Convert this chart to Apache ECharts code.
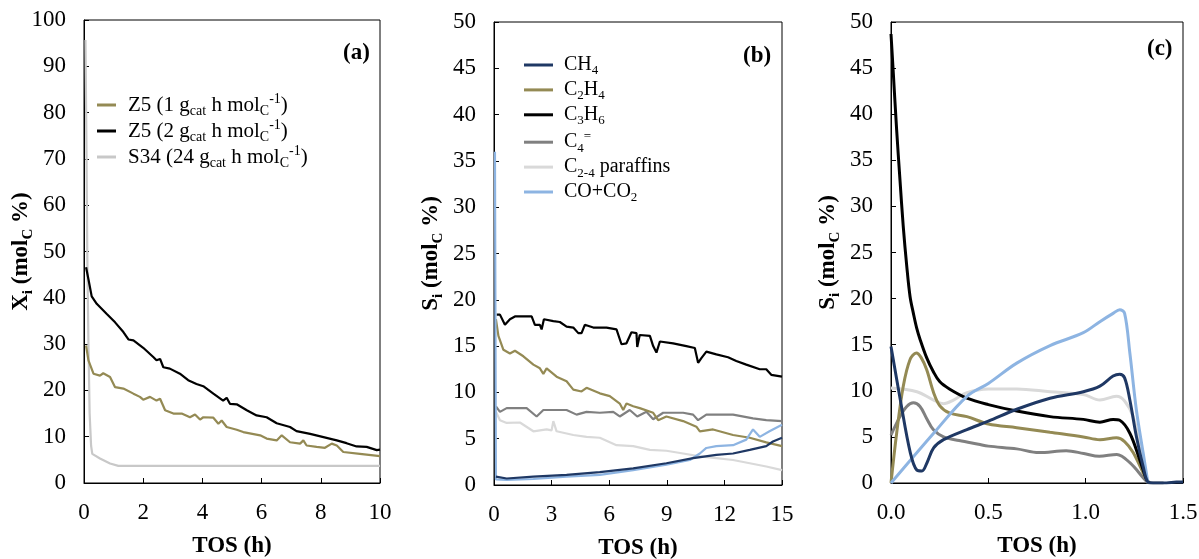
<!DOCTYPE html>
<html>
<head>
<meta charset="utf-8">
<script src="https://cdn.jsdelivr.net/npm/echarts@6/dist/echarts.min.js"></script>
<style>
html,body{margin:0;padding:0;background:#fff;}
#chart{width:1199px;height:559px;}
</style>
</head>
<body>
<div id="chart"></div>
<script>
// ---------- Panel (a): conversion X_i vs TOS ----------
const aTicksX = [0, 2, 4, 6, 8, 10];
const z5_1 = [[0.07,29.7],[0.15,26.5],[0.32,23.6],[0.54,23.2],[0.65,23.7],[0.88,22.9],[1.05,20.7],[1.33,20.4],[1.67,19.3],[1.89,18.6],[2.0,18.0],[2.23,18.6],[2.45,17.8],[2.57,18.2],[2.74,15.7],[3.02,15.0],[3.30,15.0],[3.58,14.2],[3.75,14.8],[3.92,13.7],[4.03,14.2],[4.37,14.1],[4.54,12.8],[4.65,13.5],[4.82,12.1],[5.16,11.5],[5.38,11.0],[5.95,10.3],[6.17,9.6],[6.51,9.2],[6.68,10.3],[6.96,8.8],[7.30,8.5],[7.41,9.2],[7.52,8.1],[7.86,7.8],[8.14,7.6],[8.37,8.5],[8.54,8.1],[8.76,6.7],[9.32,6.3],[10,5.8]];
const z5_2 = [[0.07,46.6],[0.15,44.0],[0.26,40.3],[0.43,38.7],[0.77,36.5],[1.05,34.7],[1.33,32.6],[1.5,31.0],[1.67,30.8],[2.0,29.2],[2.34,27.2],[2.45,26.5],[2.57,26.8],[2.68,25.0],[2.9,24.7],[3.24,23.6],[3.52,22.2],[3.8,21.4],[4.03,20.9],[4.37,19.3],[4.7,17.8],[4.82,18.4],[4.93,17.1],[5.16,17.0],[5.5,15.7],[5.83,14.6],[6.17,14.2],[6.51,12.9],[6.96,12.1],[7.18,11.2],[7.64,10.6],[8.09,9.9],[8.54,9.2],[8.87,8.6],[9.21,7.9],[9.55,7.8],[9.89,7.1],[10,7.2]];
const s34 = [[0.05,95.7],[0.08,75],[0.11,50],[0.15,30],[0.19,15],[0.24,8],[0.28,6.3],[0.54,5.3],[0.88,4.2],[1.16,3.7],[10,3.7]];

// ---------- Panel (b): selectivity, Z5 ----------
const bCH4 = [[0.1,0.9],[0.66,0.7],[2.05,0.9],[3.78,1.1],[5.51,1.4],[7.25,1.8],[8.98,2.35],[10.37,2.9],[11.58,3.25],[12.45,3.4],[13.32,3.8],[14.18,4.2],[14.53,4.7],[15,5.1]];
const bC2H4 = [[0.1,17.9],[0.23,16.1],[0.49,14.6],[0.83,14.2],[1.09,14.5],[1.53,13.9],[2.05,13.0],[2.39,12.6],[2.57,12.0],[2.74,12.6],[3.26,11.7],[3.78,11.2],[4.13,10.3],[4.56,10.1],[4.82,10.5],[5.51,9.9],[6.03,9.6],[6.55,8.8],[6.73,8.1],[6.9,8.8],[7.25,8.5],[7.59,8.3],[8.29,7.8],[8.55,7.0],[8.98,7.4],[9.85,6.9],[10.54,6.3],[10.72,5.8],[11.41,6.0],[12.45,5.4],[13.32,5.1],[14.18,4.6],[15,4.2]];
const bC3H6 = [[0.14,18.4],[0.31,18.4],[0.57,17.3],[0.83,17.9],[1.09,18.2],[1.96,18.2],[2.13,17.3],[2.39,17.3],[2.48,16.8],[2.6,17.9],[3.09,17.7],[3.43,17.6],[3.78,17.1],[4.13,17.0],[4.39,16.4],[4.56,16.4],[4.73,17.3],[5.17,17.0],[5.86,17.0],[6.38,16.8],[6.64,15.2],[6.9,15.3],[7.16,16.5],[7.42,16.4],[7.46,14.9],[7.59,16.2],[8.12,16.1],[8.29,15.0],[8.46,14.3],[8.64,15.5],[9.33,15.3],[10.02,15.0],[10.46,14.8],[10.63,13.2],[10.8,13.7],[11.06,14.4],[11.58,14.1],[12.19,13.8],[12.62,13.4],[13.14,13.0],[13.84,12.5],[14.18,12.5],[14.44,11.9],[15,11.7]];
const bC4 = [[0.1,8.5],[0.31,7.9],[0.66,8.3],[1.7,8.3],[2.22,7.4],[2.57,8.1],[3.78,8.1],[4.3,7.6],[4.82,7.9],[5.51,7.8],[6.21,7.9],[6.55,7.4],[7.07,8.1],[7.46,7.4],[7.94,7.9],[8.29,7.1],[8.81,7.8],[9.85,7.8],[10.37,7.6],[10.63,7.0],[11.06,7.6],[12.45,7.6],[13.49,7.2],[14.18,7.0],[15,6.9]];
const bPar = [[0.1,7.9],[0.31,7.0],[0.66,6.7],[1.35,6.75],[2.05,5.8],[2.74,6.0],[3.0,5.9],[3.09,6.9],[3.26,5.8],[4.13,5.4],[4.82,5.2],[5.51,5.1],[6.38,4.3],[7.25,4.2],[8.12,3.8],[8.98,3.7],[9.85,3.4],[10.72,3.1],[11.58,2.9],[12.45,2.7],[13.32,2.35],[14.18,2.0],[15,1.6]];
const bCOx = [[0.05,36],[0.1,0.6],[0.66,0.55],[2.05,0.65],[3.78,0.9],[5.51,1.1],[7.25,1.6],[8.98,2.2],[10.2,2.7],[10.72,3.4],[11.06,4.0],[11.58,4.2],[12.45,4.3],[13.14,4.9],[13.49,6.0],[13.84,5.2],[14.35,5.8],[15,6.5]];

// ---------- Panel (c): selectivity, S34 ----------
const cCH4 = [[0,14.8],[0.048,9.0],[0.099,3.3],[0.133,1.4],[0.159,1.3],[0.185,2.2],[0.219,3.8],[0.27,4.7],[0.39,5.8],[0.5,6.7],[0.646,8.0],[0.817,9.2],[0.988,9.9],[1.073,10.5],[1.141,11.6],[1.175,11.8],[1.2,11.4],[1.227,9.0],[1.26,5.1],[1.295,1.8],[1.32,0.1],[1.346,0],[1.415,0],[1.466,0.1],[1.5,0.1]];
const cC2H4 = [[0,0],[0.029,5.4],[0.063,10.5],[0.098,13.4],[0.13,14.1],[0.155,13.6],[0.183,12.3],[0.219,9.8],[0.25,8.4],[0.3,7.6],[0.39,7.2],[0.5,6.4],[0.646,6.0],[0.817,5.5],[0.988,5.0],[1.073,4.7],[1.158,4.9],[1.2,4.5],[1.244,3.3],[1.312,0.4],[1.33,0]];
const cC3H6 = [[0,48.7],[0.012,44.4],[0.029,38.3],[0.046,32.9],[0.063,27.8],[0.081,23.5],[0.098,20.2],[0.115,18.4],[0.132,16.8],[0.149,15.6],[0.183,13.6],[0.217,12.1],[0.25,11.0],[0.3,10.2],[0.39,9.2],[0.5,8.5],[0.646,7.8],[0.817,7.2],[0.988,6.9],[1.073,6.6],[1.141,6.9],[1.175,6.8],[1.227,5.4],[1.278,2.5],[1.312,0.4],[1.325,0]];
const cC4 = [[0,5.2],[0.046,7.2],[0.081,8.3],[0.115,8.7],[0.149,8.3],[0.183,7.0],[0.217,5.8],[0.27,5.0],[0.35,4.6],[0.45,4.2],[0.5,4.0],[0.646,3.7],[0.76,3.3],[0.9,3.5],[0.99,3.2],[1.07,2.9],[1.16,3.1],[1.227,2.2],[1.312,0.2],[1.33,0],[1.4,0]];
const cPar = [[0,10.3],[0.133,9.9],[0.219,9.0],[0.27,8.6],[0.321,9.0],[0.39,9.8],[0.5,10.2],[0.646,10.2],[0.817,9.9],[0.988,9.6],[1.073,9.0],[1.158,9.4],[1.2,8.9],[1.244,7.2],[1.278,4.0],[1.312,0.5],[1.325,0]];
const cCOx = [[0,0],[0.219,5.4],[0.39,9.4],[0.5,10.8],[0.646,13.0],[0.817,14.9],[0.988,16.3],[1.073,17.5],[1.141,18.4],[1.175,18.8],[1.2,18.4],[1.227,14.1],[1.26,8.0],[1.295,3.3],[1.32,0]];

// ---------- labels ----------
const panelLabels = ['(a)', '(b)', '(c)'];
const legendA = {
  'Z5 (1 gcat h molC-1)': 'Z5 (1 g{sub|cat} h mol{sub|C}{sup|-1})',
  'Z5 (2 gcat h molC-1)': 'Z5 (2 g{sub|cat} h mol{sub|C}{sup|-1})',
  'S34 (24 gcat h molC-1)': 'S34 (24 g{sub|cat} h mol{sub|C}{sup|-1})'
};
const legendB = {
  'CH4': 'CH{sub|4}',
  'C2H4': 'C{sub|2}H{sub|4}',
  'C3H6': 'C{sub|3}H{sub|6}',
  'C4=': 'C{sub|4}{sup|=}',
  'C2-4 paraffins': 'C{sub|2-4} paraffins',
  'CO+CO2': 'CO+CO{sub|2}'
};

const FONT = 'Liberation Serif, Times New Roman, serif';
const col = {
  olive: '#948a54', black: '#000000', lgrey: '#c8c8c8',
  navy: '#1f3864', grey: '#808080', pale: '#d9d9d9', blue: '#8db4e2'
};

const nameRich = {
  b: { fontFamily: FONT, fontWeight: 'bold', fontSize: 23, lineHeight: 30, color: '#000' },
  bs: { fontFamily: FONT, fontWeight: 'bold', fontSize: 15, lineHeight: 15, verticalAlign: 'bottom', color: '#000' }
};
const legRich = (fs, lh) => ({
  n: { fontFamily: FONT, fontSize: fs, lineHeight: lh, color: '#000' },
  sub: { fontFamily: FONT, fontSize: Math.round(fs * 0.66), lineHeight: Math.round(fs * 0.66), verticalAlign: 'bottom', color: '#000' },
  sup: { fontFamily: FONT, fontSize: Math.round(fs * 0.66), lineHeight: Math.round(fs * 0.66), verticalAlign: 'top', color: '#000' }
});
function wrapRich(s) {
  return s.split(/(\{(?:sub|sup)\|[^}]*\})/).filter(p => p.length).map(p => p.startsWith('{') ? p : '{n|' + p + '}').join('');
}

const grids = [
  { left: 84, right: 819, top: 20, bottom: 76 },
  { left: 494, right: 417, top: 22, bottom: 74 },
  { left: 891, right: 16, top: 22, bottom: 76 }
];
const xCfg = [
  { max: 10, interval: 2, fmt: v => String(v) },
  { max: 15, interval: 3, fmt: v => String(v) },
  { max: 1.5, interval: 0.5, fmt: v => v.toFixed(1) }
];
const yCfg = [
  { max: 100, interval: 10, name: '{b|X}{bs|i}{b| (mol}{bs|C}{b| %)}' },
  { max: 50, interval: 5, name: '{b|S}{bs|i}{b| (mol}{bs|C}{b| %)}' },
  { max: 50, interval: 5, name: '{b|S}{bs|i}{b| (mol}{bs|C}{b| %)}' }
];

const option = {
  animation: false,
  backgroundColor: '#fff',
  grid: grids.map(g => Object.assign({ show: true, borderColor: '#000', borderWidth: 1, backgroundColor: 'transparent', containLabel: false, outerBoundsMode: 'none' }, g)),
  xAxis: xCfg.map((c, i) => ({
    type: 'value', gridIndex: i, min: 0, max: c.max, interval: c.interval,
    name: 'TOS (h)', nameLocation: 'middle', nameGap: 52, nameMoveOverlap: false,
    nameTextStyle: { fontFamily: FONT, fontWeight: 'bold', fontSize: 23, color: '#000' },
    axisLine: { show: true, lineStyle: { color: '#000', width: 1 } },
    axisTick: { show: true, inside: true, length: 5, lineStyle: { color: '#000' } },
    axisLabel: { fontFamily: FONT, fontSize: 23, color: '#000', margin: 18, formatter: c.fmt, showMinLabel: true, showMaxLabel: true },
    splitLine: { show: false }
  })),
  yAxis: yCfg.map((c, i) => ({
    type: 'value', gridIndex: i, min: 0, max: c.max, interval: c.interval,
    name: c.name, nameLocation: 'middle', nameGap: 48, nameRotate: 90, nameMoveOverlap: false,
    nameTextStyle: { rich: nameRich },
    axisLine: { show: true, lineStyle: { color: '#000', width: 1 } },
    axisTick: { show: true, inside: true, length: 5, lineStyle: { color: '#000' } },
    axisLabel: { fontFamily: FONT, fontSize: 23, color: '#000', margin: 18 },
    splitLine: { show: false }
  })),
  legend: [
    {
      left: 97, top: 92, orient: 'vertical', padding: 0, itemGap: 0,
      icon: 'rect', itemWidth: 19, itemHeight: 3,
      data: Object.keys(legendA),
      formatter: name => wrapRich(legendA[name]),
      textStyle: { padding: [0, 0, 0, 7], rich: legRich(21, 26) }
    },
    {
      left: 524, top: 55, orient: 'vertical', padding: 0, itemGap: 2.4,
      icon: 'rect', itemWidth: 29, itemHeight: 3,
      data: Object.keys(legendB),
      formatter: name => wrapRich(legendB[name]),
      textStyle: { padding: [0, 0, 0, 6], rich: legRich(20, 25) }
    }
  ],
  graphic: [
    { type: 'text', left: 343, top: 42, style: { text: panelLabels[0], font: 'bold 23px ' + FONT, fill: '#000' } },
    { type: 'text', left: 743, top: 45, style: { text: panelLabels[1], font: 'bold 23px ' + FONT, fill: '#000' } },
    { type: 'text', left: 1147, top: 38, style: { text: panelLabels[2], font: 'bold 23px ' + FONT, fill: '#000' } }
  ],
  series: []
};

function addLine(name, data, idx, color, width, smooth) {
  option.series.push({
    type: 'line', name: name, data: data, xAxisIndex: idx, yAxisIndex: idx,
    showSymbol: false, symbol: 'none', smooth: smooth || false,
    lineStyle: { color: color, width: width }, itemStyle: { color: color },
    clip: true
  });
}
addLine('S34 (24 gcat h molC-1)', s34, 0, col.lgrey, 2.2);
addLine('Z5 (1 gcat h molC-1)', z5_1, 0, col.olive, 2.2);
addLine('Z5 (2 gcat h molC-1)', z5_2, 0, col.black, 2.2);

addLine('C2-4 paraffins', bPar, 1, col.pale, 2.2);
addLine('C4=', bC4, 1, col.grey, 2.2);
addLine('C2H4', bC2H4, 1, col.olive, 2.2);
addLine('C3H6', bC3H6, 1, col.black, 2.2);
addLine('CO+CO2', bCOx, 1, col.blue, 2.2);
addLine('CH4', bCH4, 1, col.navy, 2.2);

addLine('c-par', cPar, 2, col.pale, 3, 0.35);
addLine('c-c4', cC4, 2, col.grey, 3, 0.35);
addLine('c-c2h4', cC2H4, 2, col.olive, 3, 0.35);
addLine('c-c3h6', cC3H6, 2, col.black, 3, 0.35);
addLine('c-cox', cCOx, 2, col.blue, 3, 0.35);
addLine('c-ch4', cCH4, 2, col.navy, 3, 0.35);

const chart = echarts.init(document.getElementById('chart'), null, { renderer: 'canvas' });
chart.setOption(option);
</script>
</body>
</html>
